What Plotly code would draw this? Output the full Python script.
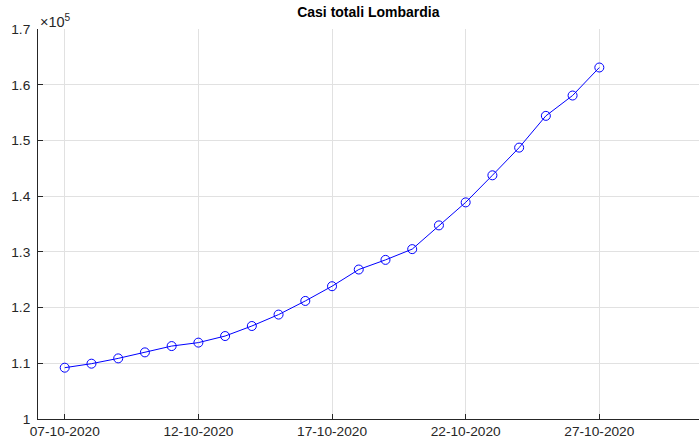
import plotly.graph_objects as go
import pandas as pd

# total cases, Lombardia
dates = pd.date_range("2020-10-07", "2020-10-27", freq="D")
casi_totali = [
    109210, 109930, 110880, 111960, 113090, 113710, 114890, 116690,
    118740, 121190, 123830, 126830, 128560, 130490, 134750, 138880,
    143740, 148710, 154410, 158060, 163090,
]

y_ticks = [100000, 110000, 120000, 130000, 140000, 150000, 160000, 170000]
y_labels = ["1", "1.1", "1.2", "1.3", "1.4", "1.5", "1.6", "1.7"]
x_ticks = pd.date_range("2020-10-07", "2020-10-27", freq="5D")
x_labels = [d.strftime("%d-%m-%Y") for d in x_ticks]

axis_col = "#262626"
grid_col = "#e1e1e1"
font_fam = "Liberation Sans, Arial, sans-serif"

fig = go.Figure()
fig.add_trace(go.Scatter(
    x=dates, y=casi_totali, mode="lines+markers",
    line=dict(color="#0000ff", width=1),
    marker=dict(symbol="circle-open", size=9, color="#0000ff", line=dict(width=1)),
    showlegend=False,
))

fig.update_layout(
    width=699, height=443,
    margin=dict(l=38, r=0, t=29, b=24),
    paper_bgcolor="white", plot_bgcolor="white",
    font=dict(family=font_fam, size=14, color=axis_col),
    title=dict(text="<b>Casi totali Lombardia</b>", x=0.527, xanchor="center",
               y=0.972, yanchor="middle", font=dict(size=14, color="black")),
)
fig.update_xaxes(
    range=["2020-10-06", "2020-10-30 17:30"],
    tickvals=x_ticks, ticktext=x_labels,
    showgrid=True, gridcolor=grid_col, gridwidth=1,
    showline=True, linecolor=axis_col, linewidth=1,
    ticks="inside", ticklen=5, tickcolor=axis_col,
    zeroline=False, tickfont=dict(size=13.7),
)
fig.update_yaxes(
    range=[100000, 170000],
    tickvals=y_ticks, ticktext=y_labels,
    showgrid=True, gridcolor=grid_col, gridwidth=1,
    showline=True, linecolor=axis_col, linewidth=1,
    ticks="inside", ticklen=5, tickcolor=axis_col,
    zeroline=False, tickfont=dict(size=13.7), ticklabelstandoff=4,
)
fig.add_annotation(
    text="\u00d710<sup>5</sup>", xref="paper", yref="paper", x=0, y=1,
    xanchor="left", yanchor="bottom", showarrow=False,
    font=dict(size=14.5, color=axis_col), yshift=-3,
)

fig.write_html("out.html", config={"displayModeBar": False},
               post_script="document.body.style.margin='0';")
